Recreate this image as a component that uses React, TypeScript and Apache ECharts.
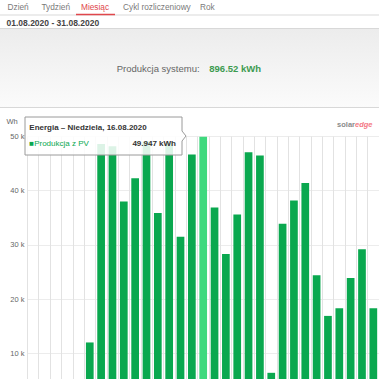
import React, { useEffect, useRef } from "react";
import * as echarts from "echarts";

const tabs = ["Dzień", "Tydzień", "Miesiąc", "Cykl rozliczeniowy", "Rok"];
const tabX = [7.5, 41.5, 81, 123, 200];
const activeTab = 2;
const dateRange = "01.08.2020 - 31.08.2020";
const summaryLabel = "Produkcja systemu:";
const summaryValue = "896.52 kWh";
const unitLabel = "Wh";

const days = [
  "01.08", "02.08", "03.08", "04.08", "05.08", "06.08", "07.08", "08.08",
  "09.08", "10.08", "11.08", "12.08", "13.08", "14.08", "15.08", "16.08",
  "17.08", "18.08", "19.08", "20.08", "21.08", "22.08", "23.08", "24.08",
  "25.08", "26.08", "27.08", "28.08", "29.08", "30.08", "31.08",
];
const production = [
  0, 0, 0, 0, 0, 12000, 48600, 48200, 38000, 42300, 49100, 35900, 48900,
  31500, 46700, 49947, 36900, 28300, 35600, 47100, 46500, 6400, 33900, 38200,
  41400, 24400, 16900, 18300, 23900, 29200, 18300,
];
const highlightIndex = 15;
const yTicks = [0, 10000, 20000, 30000, 40000, 50000];

const tooltipTitle = "Energia – Niedziela, 16.08.2020";
const tooltipSeries = "Produkcja z PV";
const tooltipValue = "49.947 kWh";

const FONT = "'Liberation Sans', Arial, sans-serif";
const GREEN = "#0aa84f";
const GREEN_HI = "#3fd97e";

export default function App() {
  const ref = useRef<HTMLDivElement>(null);
  useEffect(() => {
    if (!ref.current) return;
    const chart = echarts.init(ref.current, null, { renderer: "svg" });
    const graphics: any[] = [];
    tabs.forEach((t, i) => {
      graphics.push({
        type: "text",
        x: tabX[i],
        y: 7,
        style: {
          text: t,
          fontSize: 8.3,
          fontFamily: FONT,
          fill: i === activeTab ? "#e0474c" : "#7a7a7a",
          verticalAlign: "middle",
        },
      });
    });
    graphics.push({
      type: "line",
      shape: { x1: 0, y1: 15, x2: 379, y2: 15 },
      style: { stroke: "#e6e6e6", lineWidth: 1.5 },
    });
    graphics.push({
      type: "line",
      shape: { x1: 76, y1: 14.5, x2: 115, y2: 14.5 },
      style: { stroke: "#e0474c", lineWidth: 1.6 },
    });
    graphics.push({
      type: "text",
      x: 6.5,
      y: 23,
      style: {
        text: dateRange,
        fontSize: 8.5,
        fontWeight: "bold",
        fontFamily: FONT,
        fill: "#444",
        verticalAlign: "middle",
      },
    });
    graphics.push({
      type: "rect",
      shape: { x: 0, y: 28.5, width: 379, height: 79 },
      style: {
        fill: new echarts.graphic.LinearGradient(0, 0, 0, 1, [
          { offset: 0, color: "#ececec" },
          { offset: 1, color: "#fbfbfb" },
        ]),
      },
    });
    graphics.push({
      type: "line",
      shape: { x1: 0, y1: 28.5, x2: 379, y2: 28.5 },
      style: { stroke: "#d8d8d8", lineWidth: 1 },
    });
    graphics.push({
      type: "line",
      shape: { x1: 0, y1: 107.5, x2: 379, y2: 107.5 },
      style: { stroke: "#d8d8d8", lineWidth: 1 },
    });
    graphics.push({
      type: "text",
      x: 116.7,
      y: 68.3,
      style: {
        text: summaryLabel,
        fontSize: 9.5,
        fontFamily: FONT,
        fill: "#666",
        verticalAlign: "middle",
      },
    });
    graphics.push({
      type: "text",
      x: 209.3,
      y: 68.3,
      style: {
        text: summaryValue,
        fontSize: 9.5,
        fontWeight: "bold",
        fontFamily: FONT,
        fill: "#3d9b50",
        verticalAlign: "middle",
      },
    });
    graphics.push({
      type: "text",
      x: 6.5,
      y: 121,
      style: {
        text: unitLabel,
        fontSize: 7.5,
        fontFamily: FONT,
        fill: "#666",
        verticalAlign: "middle",
      },
    });
    graphics.push({
      type: "text",
      x: 372.5,
      y: 124,
      style: {
        text: "{a|solar}{b|edge}",
        align: "right",
        verticalAlign: "middle",
        rich: {
          a: { fontSize: 7.5, fontWeight: "bold", fontFamily: FONT, fill: "#8a8a8a" },
          b: {
            fontSize: 7.5,
            fontWeight: "bold",
            fontStyle: "italic",
            fontFamily: FONT,
            fill: "#f47a86",
          },
        },
      },
    });
    graphics.push({
      type: "polygon",
      z: 100,
      shape: {
        points: [
          [25, 117], [182, 117], [182, 131], [186, 136], [182, 141], [182, 155], [25, 155],
        ],
      },
      style: { fill: "rgba(255,255,255,0.86)", stroke: "#9a9a9a", lineWidth: 1 },
    });
    graphics.push({
      type: "text",
      z: 101,
      x: 29.3,
      y: 127.5,
      style: {
        text: tooltipTitle,
        fontSize: 8,
        fontWeight: "bold",
        fontFamily: FONT,
        fill: "#333",
        verticalAlign: "middle",
      },
    });
    graphics.push({
      type: "text",
      z: 101,
      x: 29.3,
      y: 143.3,
      style: {
        text: "■" + tooltipSeries,
        fontSize: 8,
        fontFamily: FONT,
        fill: GREEN,
        verticalAlign: "middle",
      },
    });
    graphics.push({
      type: "text",
      z: 101,
      x: 176,
      y: 143.3,
      style: {
        text: tooltipValue,
        fontSize: 8,
        fontWeight: "bold",
        fontFamily: FONT,
        fill: "#333",
        align: "right",
        verticalAlign: "middle",
      },
    });

    chart.setOption({
      animation: false,
      backgroundColor: "#fff",
      grid: { left: 27.4, top: 136.5, width: 352.2, height: 271 },
      xAxis: {
        type: "category",
        data: days,
        boundaryGap: true,
        axisLine: { show: false },
        axisTick: { show: false, interval: 0 },
        axisLabel: { show: false, interval: 0 },
        splitLine: { show: true, interval: 0, lineStyle: { color: "#e2e2e2", width: 1 } },
      },
      yAxis: {
        type: "value",
        min: yTicks[0],
        max: yTicks[yTicks.length - 1],
        interval: yTicks[1] - yTicks[0],
        axisLine: { show: false },
        axisTick: { show: false },
        axisLabel: {
          margin: 3,
          fontSize: 7.5,
          fontFamily: FONT,
          color: "#666",
          showMinLabel: false,
          formatter: (v: number) => (v === 0 ? "" : v / 1000 + " k"),
        },
        splitLine: { lineStyle: { color: "#ececec", width: 1 } },
      },
      series: [
        {
          type: "bar",
          barWidth: 7.7,
          data: production.map((v, i) =>
            i === highlightIndex ? { value: v, itemStyle: { color: GREEN_HI } } : v
          ),
          itemStyle: { color: GREEN },
        },
      ],
      graphic: graphics,
    });
    return () => chart.dispose();
  }, []);
  return (
    <div style={{ position: "fixed", left: 0, top: 0, width: 379, height: 379, overflow: "hidden", background: "#fff" }}>
      <div ref={ref} style={{ width: 379, height: 420 }} />
    </div>
  );
}
